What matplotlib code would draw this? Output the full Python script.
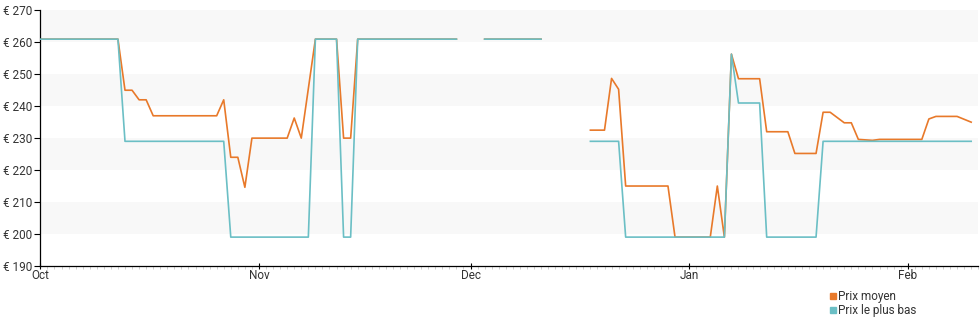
import numpy as np
import pandas as pd
import matplotlib
matplotlib.use("Agg")
import matplotlib.pyplot as plt
import matplotlib.dates as mdates
from matplotlib.lines import Line2D

plt.rcParams['font.family'] = ['Roboto', 'DejaVu Sans']

# days counted from the first day of the chart (1 Oct)
start = pd.Timestamp("2023-10-01")

days_moyen = [0, 11, 12, 13, 14, 15, 16, 25, 26, 27, 28, 29, 30, 35, 36, 37, 39,
              42, 43, 44, 45, 59, 60, 63, 71, 72, 78, 80, 81, 82, 83, 89, 90, 95,
              96, 97, 98, 99, 102, 103, 106, 107, 110, 111, 112, 114, 115, 116,
              118, 119, 125, 126, 127, 130, 132]
prix_moyen = [261, 261, 245, 245, 242, 242, 237, 237, 242, 224, 224, 214.6, 230,
              230, 236.3, 230, 261, 261, 230, 230, 261, 261, np.nan, 261, 261,
              np.nan, 232.5, 232.5, 248.7, 245.3, 215, 215, 199, 199, 215, 199,
              256.3, 248.6, 248.6, 232, 232, 225.2, 225.2, 238.1, 238.1, 234.8,
              234.8, 229.6, 229.3, 229.6, 229.6, 236, 236.8, 236.8, 235]

days_bas = [0, 11, 12, 26, 27, 38, 39, 42, 43, 44, 45, 59, 60, 63, 71, 72, 78,
            82, 83, 97, 98, 99, 102, 103, 110, 111, 132]
prix_bas = [261, 261, 229, 229, 199, 199, 261, 261, 199, 199, 261, 261, np.nan,
            261, 261, np.nan, 229, 229, 199, 199, 256.3, 241, 241, 199, 199, 229, 229]

y_ticks = [190, 200, 210, 220, 230, 240, 250, 260, 270]
labels = ["Prix moyen", "Prix le plus bas"]
c_moyen = "#e8792a"
c_bas = "#6bbfc5"

x_moyen = start + pd.to_timedelta(days_moyen, unit="D")
x_bas = start + pd.to_timedelta(days_bas, unit="D")

fig = plt.figure(figsize=(9.8, 3.25), dpi=100)
ax = fig.add_axes([0.0412, 0.182, 0.957, 0.786])

# alternating bands
for lo in [200, 220, 240, 260]:
    ax.axhspan(lo, lo + 10, color="#f8f8f8", lw=0, zorder=0)

ax.plot(x_moyen, prix_moyen, color=c_moyen, lw=1.2, zorder=2)
ax.plot(x_bas, prix_bas, color=c_bas, lw=1.2, zorder=3)

ax.set_xlim(start, start + pd.Timedelta(days=133))
ax.set_ylim(190, 270)
ax.set_yticks(y_ticks)
ax.set_yticklabels(["€ %d" % v for v in y_ticks])

ax.xaxis.set_major_locator(mdates.MonthLocator())
ax.xaxis.set_major_formatter(mdates.DateFormatter("%b"))
ax.xaxis.set_minor_locator(mdates.DayLocator())

for s in ["top", "right"]:
    ax.spines[s].set_visible(False)
ax.spines["left"].set_linewidth(0.9)
ax.spines["bottom"].set_linewidth(0.9)

ax.tick_params(axis="y", length=4, width=0.8, pad=2, labelsize=8.5, labelcolor="#333333")
ax.tick_params(axis="x", which="major", direction="inout", length=5, width=0.8,
               pad=0, labelsize=8.5, labelcolor="#333333")
ax.tick_params(axis="x", which="minor", length=2, width=0.6, color="#c8c8c8")

handles = [Line2D([], [], marker="s", ls="none", color=c_moyen, markersize=5),
           Line2D([], [], marker="s", ls="none", color=c_bas, markersize=5)]
fig.legend(handles, labels, loc="upper left", bbox_to_anchor=(829 / 980, 1 - 290 / 325),
           frameon=False, fontsize=8.5, handlelength=0.6, handletextpad=0.15,
           labelspacing=0.1, borderpad=0, borderaxespad=0, labelcolor="#333333")

fig.savefig("out.png", dpi=100)
